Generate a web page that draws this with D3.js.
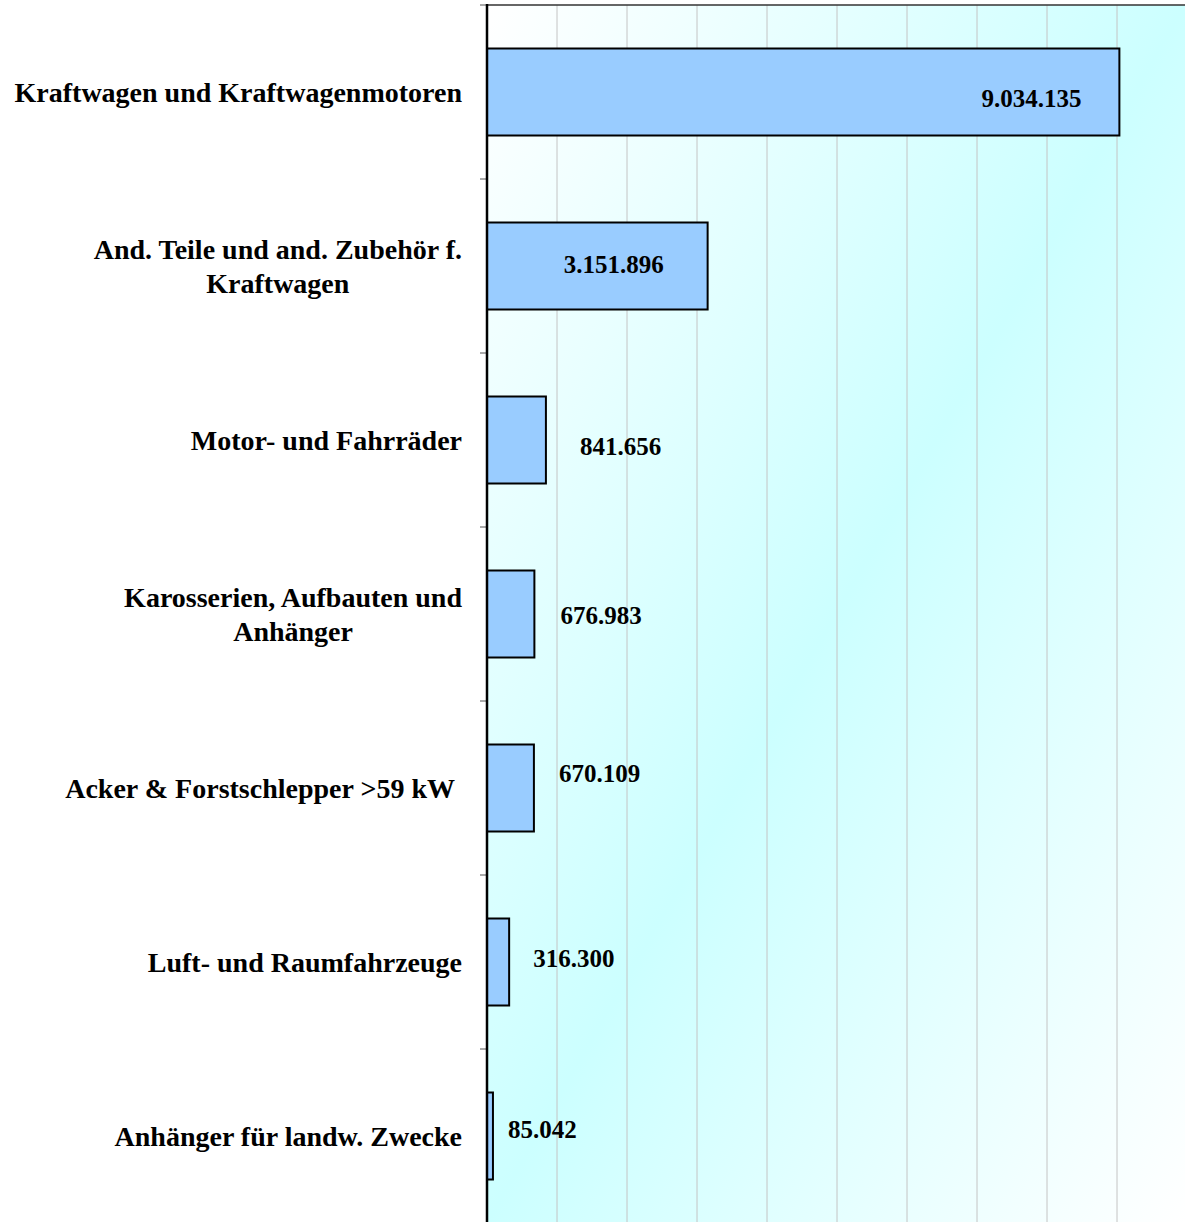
<!DOCTYPE html>
<html>
<head>
<meta charset="utf-8">
<script src="https://cdn.jsdelivr.net/npm/d3@7"></script>
<style>
  body { margin: 0; background: #fff; }
  text { font-family: "Liberation Serif", "DejaVu Serif", serif; font-weight: bold; fill: #000; }
</style>
</head>
<body>
<svg id="chart"></svg>
<script>
// categories (each entry = lines of the label), top to bottom
var categories = [
  ['Kraftwagen und Kraftwagenmotoren'],
  ['And. Teile und and. Zubehör f.', 'Kraftwagen'],
  ['Motor- und Fahrräder'],
  ['Karosserien, Aufbauten und', 'Anhänger'],
  ['Acker & Forstschlepper >59 kW\u00a0'],
  ['Luft- und Raumfahrzeuge'],
  ['Anhänger für landw. Zwecke']
];
var values = [9034135, 3151896, 841656, 676983, 670109, 316300, 85042];
var valueLabels = ['9.034.135', '3.151.896', '841.656', '676.983', '670.109', '316.300', '85.042'];
var gridTicks = [1000000, 2000000, 3000000, 4000000, 5000000, 6000000, 7000000, 8000000, 9000000];

var width = 1185;
var height = 1222;
var margin = {top: 5, right: 0, bottom: 0, left: 487};
var xMax = 10000000;

var svg = d3.select('#chart').attr('width', width).attr('height', height);

// diagonal white -> cyan -> white fill of the plot area
var grad = svg.append('defs').append('linearGradient')
    .attr('id', 'bg')
    .attr('x1', 0).attr('y1', 0).attr('x2', 1).attr('y2', 1);
grad.append('stop').attr('offset', '0%').attr('stop-color', '#ffffff');
grad.append('stop').attr('offset', '50%').attr('stop-color', '#ccffff');
grad.append('stop').attr('offset', '100%').attr('stop-color', '#ffffff');

var x = d3.scaleLinear().domain([0, xMax]).range([margin.left, margin.left + 700]);
var y = d3.scaleBand().domain(d3.range(categories.length))
    .range([margin.top, height + 1]).paddingInner(0.5).paddingOuter(0.25);
var yb = d3.scaleBand().domain(d3.range(categories.length)).range([margin.top, height + 1]);

// plot background
svg.append('rect')
    .attr('x', margin.left).attr('y', margin.top)
    .attr('width', width - margin.left).attr('height', height - margin.top)
    .attr('fill', 'url(#bg)');

// grid lines
svg.append('g').selectAll('line').data(gridTicks).enter().append('line')
    .attr('x1', function(d){ return x(d); }).attr('x2', function(d){ return x(d); })
    .attr('y1', margin.top).attr('y2', height)
    .attr('stroke', '#c4c4c4').attr('stroke-width', 1);

// top border
svg.append('line')
    .attr('x1', margin.left).attr('x2', width)
    .attr('y1', margin.top).attr('y2', margin.top)
    .attr('stroke', '#333').attr('stroke-width', 1.5);

// bars
svg.append('g').selectAll('rect').data(values).enter().append('rect')
    .attr('x', x(0))
    .attr('y', function(d, i){ return y(i); })
    .attr('width', function(d){ return x(d) - x(0); })
    .attr('height', y.bandwidth())
    .attr('fill', '#99ccff')
    .attr('stroke', '#000')
    .attr('stroke-width', 2);

// category axis with ticks between categories
var axisG = svg.append('g');
axisG.selectAll('line.tick').data(d3.range(categories.length + 1)).enter().append('line')
    .attr('class', 'tick')
    .attr('x1', margin.left - 7).attr('x2', margin.left)
    .attr('y1', function(d){ return margin.top + d * yb.step(); })
    .attr('y2', function(d){ return margin.top + d * yb.step(); })
    .attr('stroke', '#555').attr('stroke-width', 1);
axisG.append('line')
    .attr('x1', margin.left).attr('x2', margin.left)
    .attr('y1', margin.top - 1).attr('y2', height)
    .attr('stroke', '#000').attr('stroke-width', 2.5);

// category labels (right aligned block, lines centered to each other)
var lineH = 34;
var labelG = svg.append('g');
categories.forEach(function(lines, i){
  var cy = y(i) + y.bandwidth() / 2;
  var t = labelG.append('text')
      .attr('font-size', 28)
      .attr('text-anchor', 'middle');
  lines.forEach(function(l, j){
    t.append('tspan')
        .attr('y', cy + (j - (lines.length - 1) / 2) * lineH)
        .attr('dy', '0.35em')
        .text(l);
  });
  var w = 0;
  t.selectAll('tspan').each(function(){ w = Math.max(w, this.getComputedTextLength()); });
  t.selectAll('tspan').attr('x', 462 - w / 2);
});

// value labels, hand placed like the original
var labelOffset = [[-38, 6], [-44, -2], [34, 6], [26, 1], [25, -15], [24, -4], [15, -7]];
svg.append('g').selectAll('text').data(values).enter().append('text')
    .attr('font-size', 25)
    .attr('text-anchor', function(d){ return d > 2000000 ? 'end' : 'start'; })
    .attr('x', function(d, i){ return x(d) + labelOffset[i][0]; })
    .attr('y', function(d, i){ return y(i) + y.bandwidth() / 2 + labelOffset[i][1]; })
    .attr('dy', '0.35em')
    .text(function(d, i){ return valueLabels[i]; });
</script>
</body>
</html>
